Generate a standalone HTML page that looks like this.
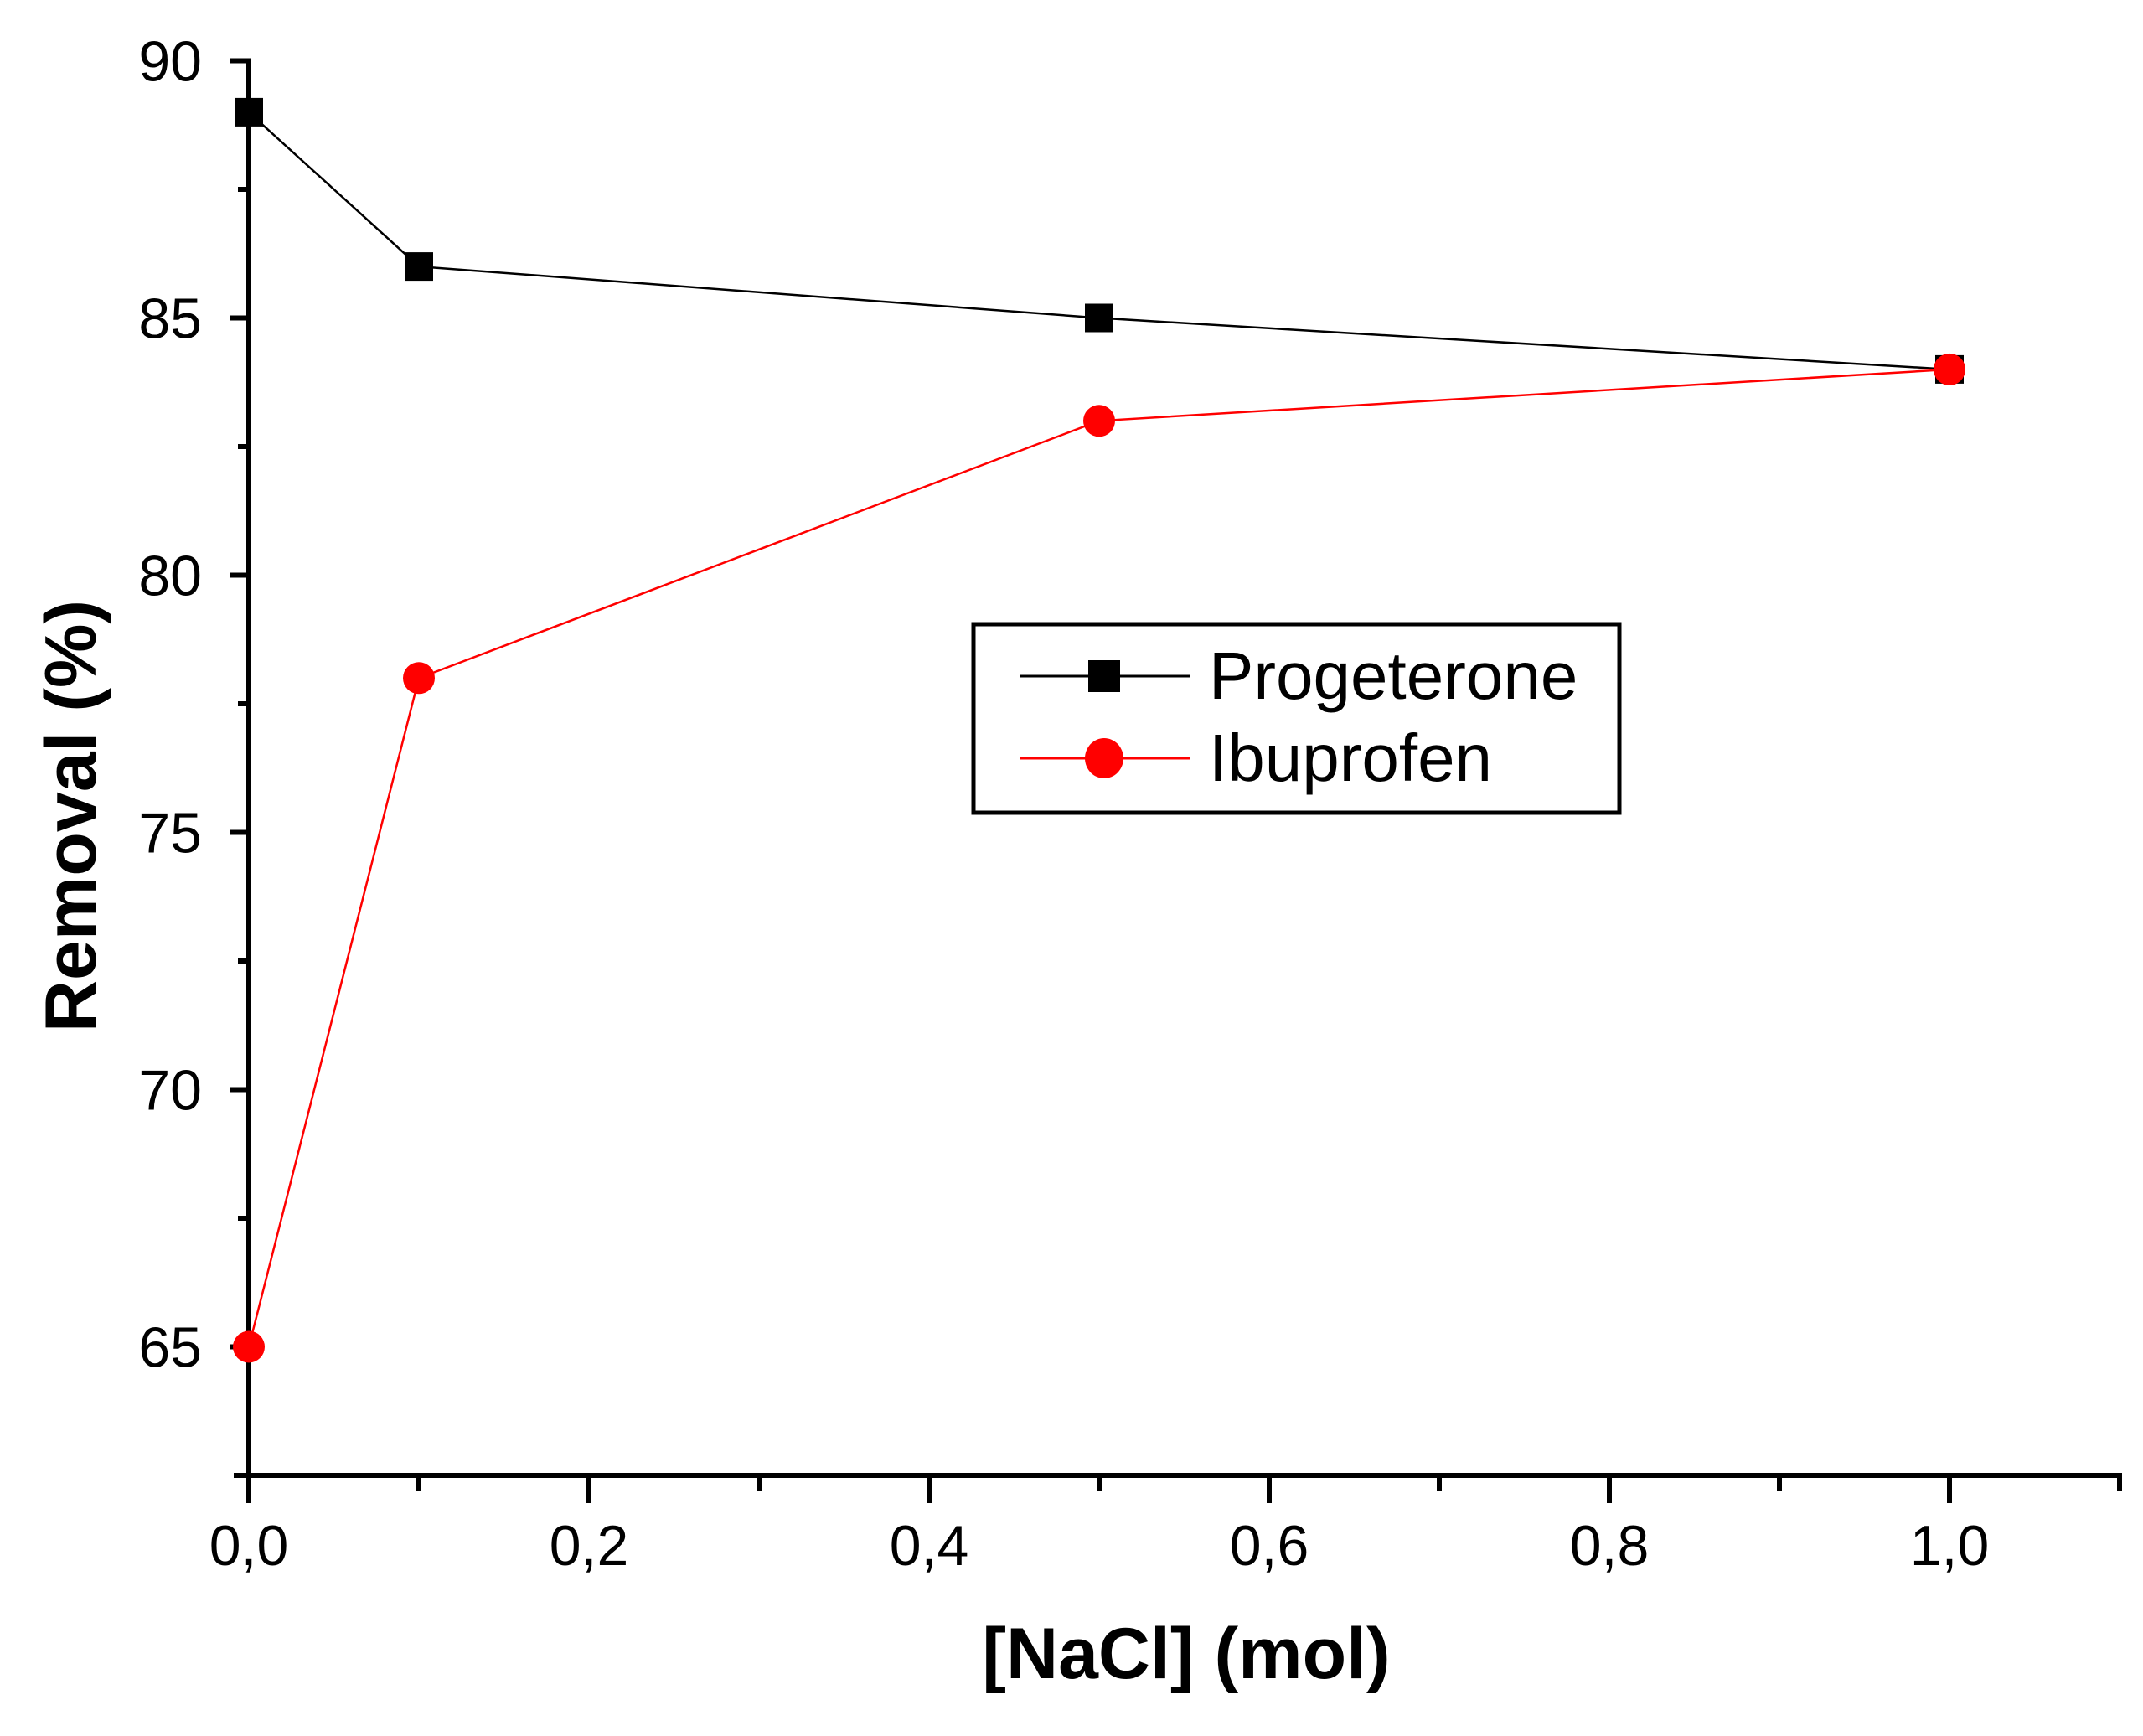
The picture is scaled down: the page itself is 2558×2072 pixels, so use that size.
<!DOCTYPE html>
<html><head><meta charset="utf-8"><style>body{margin:0;background:#fff}svg{display:block}</style></head>
<body>
<svg id="chart" width="2558" height="2072" xmlns="http://www.w3.org/2000/svg" font-family="Liberation Sans, Arial, sans-serif">
<g id="axes"></g><g id="series"></g>
<g>
<rect x="1162" y="745" width="771" height="225" fill="#fff" stroke="#000" stroke-width="5"/>
<line x1="1218" y1="807" x2="1420" y2="807" stroke="#000" stroke-width="3"/>
<rect x="1299" y="788" width="38" height="38" fill="#000"/>
<text x="1443" y="834" font-size="80">Progeterone</text>
<line x1="1218" y1="905" x2="1420" y2="905" stroke="#f00" stroke-width="3"/>
<ellipse cx="1318" cy="905" rx="23" ry="24" fill="#f00"/>
<text x="1443" y="932" font-size="80">Ibuprofen</text>
</g>
<text x="1416" y="2003" font-size="86" font-weight="bold" text-anchor="middle">[NaCl] (mol)</text>
<text transform="translate(114,974) rotate(-90)" font-size="86" font-weight="bold" text-anchor="middle">Removal (%)</text>
</svg>
<script>
const xs=[0,0.1,0.5,1.0];
const prog=[89,86,85,84];
const ibu=[65,78,83,84];
const yTicks=[65,70,75,80,85,90];
const xTicks=['0,0','0,2','0,4','0,6','0,8','1,0'];
const NS='http://www.w3.org/2000/svg';
const X0=297,XPX=2030,Y0=1761,YMIN=62.5,YPX=61.4;
const xp=v=>X0+v*XPX, yp=v=>Y0-(v-YMIN)*YPX;
function mk(t,a,p){const e=document.createElementNS(NS,t);for(const k in a)e.setAttribute(k,a[k]);p.appendChild(e);return e;}
const ax=document.getElementById('axes'), se=document.getElementById('series');
let l=mk('line',{x1:X0,y1:yp(90)-3,x2:X0,y2:Y0+3,stroke:'#000','stroke-width':6},ax);


l=mk('line',{x1:X0-18,y1:Y0,x2:xp(1.1)+3,y2:Y0,stroke:'#000','stroke-width':6},ax);


for(let v=65;v<=90;v+=2.5){const maj=v%5===0;mk('line',{x1:X0-(maj?22:13),y1:yp(v),x2:X0,y2:yp(v),stroke:'#000','stroke-width':6},ax);}
yTicks.forEach(v=>{const t=mk('text',{x:241,y:yp(v)+24,'font-size':68,'text-anchor':'end'},ax);t.textContent=v;

});
for(let i=0;i<=11;i++){const v=i/10,maj=i%2===0;mk('line',{x1:xp(v),y1:Y0,x2:xp(v),y2:Y0+(maj?33:18),stroke:'#000','stroke-width':6},ax);}
xTicks.forEach((s,i)=>{const t=mk('text',{x:xp(i*0.2),y:1868,'font-size':68,'text-anchor':'middle'},ax);t.textContent=s;

});
function series(vals,color,name,sq){
 const pl=mk('polyline',{points:xs.map((x,i)=>xp(x)+','+yp(vals[i])).join(' '),fill:'none',stroke:color,'stroke-width':2.5},se);
 
 
 xs.forEach((x,i)=>{let m;
  if(sq)m=mk('rect',{x:xp(x)-17,y:yp(vals[i])-17,width:34,height:34,fill:color},se);
  else m=mk('circle',{cx:xp(x),cy:yp(vals[i]),r:19,fill:color},se);
  
  });
}
series(prog,'#000','progesterone',true);
series(ibu,'#f00','ibuprofen',false);
</script>
</body></html>
